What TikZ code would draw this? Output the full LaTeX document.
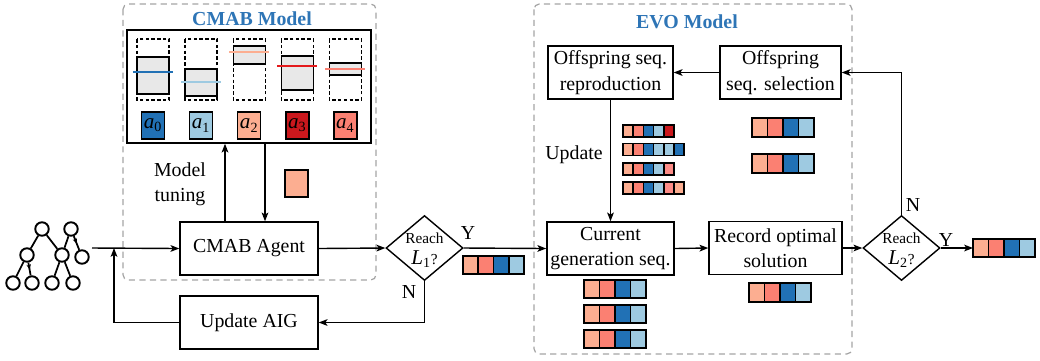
\documentclass[tikz,border=0pt]{standalone}
\usepackage{fontspec}
\setmainfont{Liberation Serif}
\usetikzlibrary{arrows.meta,positioning,calc,shapes.geometric,decorations.markings}
\definecolor{ink}{RGB}{0,0,0}
\definecolor{frame}{RGB}{165,165,165}
\definecolor{title}{RGB}{46,117,182}
\definecolor{barfill}{RGB}{232,232,232}
\definecolor{dblue}{RGB}{33,113,181}
\definecolor{lblue}{RGB}{158,202,225}
\definecolor{lsalmon}{RGB}{252,174,145}
\definecolor{salmon}{RGB}{251,128,114}
\definecolor{dred}{RGB}{203,24,29}
\definecolor{pinky}{RGB}{252,140,135}
\definecolor{redline}{RGB}{228,26,28}
\tikzset{
  every picture/.style={color=ink, line width=0.8pt, font=\fontsize{11.3}{14.5}\selectfont},
  box/.style={draw=ink, fill=white, inner sep=2pt, minimum height=1.06cm, align=center},
  cond/.style={draw=ink, diamond, minimum width=1.54cm, minimum height=1.3cm, inner sep=0pt},
  condtxt/.style={align=center, font=\fontsize{8.7}{11}\selectfont, inner sep=0pt},
  model/.style={draw=frame, dash pattern=on 3.5pt off 2.5pt, rounded corners=3pt, line width=0.7pt},
  ttl/.style={font=\fontsize{11.3}{13.5}\selectfont\bfseries, text=title},
  arm/.style={draw=ink, minimum width=0.46cm, minimum height=0.54cm, inner sep=0pt, font=\fontsize{12}{12}\selectfont},
  flow/.style={-{Stealth[length=5pt,width=3.8pt,inset=1.2pt]}, line width=0.8pt},
  gate/.style={circle, draw=ink, line width=1.1pt, minimum size=0.27cm, inner sep=0pt},
  wire/.style={line width=1pt},
  inv/.style={wire, postaction={decorate}, decoration={markings, mark=at position 0.55 with {\arrow{Stealth[length=3pt,width=2.6pt]}}}},
  lbl/.style={inner sep=1pt},
}
% one row of coloured cells: x, y (top left), cell width, cell height, colours
\newcommand{\seqbar}[5]{%
  \foreach \clr [count=\k from 0] in {#5}
    \filldraw[fill=\clr, draw=ink, line width=0.9pt] ({#1+\k*#3},#2) rectangle ++(#3,#4);
}

\begin{document}
\begin{tikzpicture}[x=0.02cm, y=-0.02cm]
  \useasboundingbox (0,0) rectangle (1040,360);
  % dashed model frames
  \draw[model] (123,4) rectangle (376,280);
  \draw[model] (534,4) rectangle (852,354);
  \node[ttl] (cmabttl) at (252,19) {CMAB Model};
  \node[ttl] (evottl) at (687,22) {EVO Model};

  % input AIG
  \node[gate] (g1) at (42,229) {};
  \node[gate] (g2) at (71,229) {};
  \node[gate] (g3) at (27,255) {};
  \node[gate] (g4) at (62,255) {};
  \node[gate] (g5) at (82,257) {};
  \node[gate] (g6) at (13,283) {};
  \node[gate] (g7) at (32,283) {};
  \node[gate] (g8) at (52,283) {};
  \node[gate] (g9) at (73,283) {};
  \draw[wire] (g1) -- (g3) (g1) -- (g4) (g2) -- (g4) (g3) -- (g6) (g4) -- (g8) (g4) -- (g9);
  \draw[inv] (g2) -- (g5);
  \draw[inv] (g3) -- (g7);
  \coordinate (gin) at (92,248);
  \coordinate (merge) at (114,248);

  % CMAB model: arms and their estimates
  \node[draw=ink, minimum width=4.88cm, minimum height=2.26cm, inner sep=0pt] (armbox) at (249,86.5) {};
  \foreach \top/\bot/\mu/\clr [count=\i from 0] in {57/94/72/dblue, 69/96/82/lblue, 46/64/52/lsalmon, 56/90/66/redline, 63/75/69/salmon} {
    \filldraw[fill=barfill] ({153+48.1*\i-16},\top) rectangle ({153+48.1*\i+16},\bot);
    \draw[dash pattern=on 2pt off 1.3pt] ({153+48.1*\i-16},39) rectangle ({153+48.1*\i+16},100);
    \draw[\clr, line width=1.1pt] ({153+48.1*\i-20},\mu) -- ({153+48.1*\i+20},\mu);
  }
  \foreach \clr [count=\i from 0] in {dblue,lblue,lsalmon,dred,salmon}
    \node[arm, fill=\clr] (a\i) at ({153+48.1*\i},125.5) {\textit{a}\textsubscript{\i}};
  \node[arm, fill=lsalmon] (pick) at (296.5,183.5) {};
  \node[align=center] (tune) at (180,184) {Model\\tuning};

  \node[box, minimum width=2.76cm] (agent) at (249,248.5) {CMAB Agent};
  \node[box, minimum width=2.76cm] (aig) at (249,322.5) {Update AIG};
  \node[cond] (reach1) at (424.5,248) {};
  \node[condtxt] (reach1txt) at (424.5,250) {Reach\\[1pt]{\fontsize{12}{12}\selectfont\textit{L}\textsubscript{1}}?};
  \node[lbl] (n1) at (409,292) {N};
  \node[lbl] (y1) at (468,233) {Y};

  \draw[flow] (gin) -- (agent.west);
  \draw[flow] (aig.west) -| (merge);
  \draw[flow] (agent.north -| 225,0) -- (armbox.south -| 225,0);
  \draw[flow] (armbox.south -| 265,0) -- (agent.north -| 265,0);
  \draw[flow] (agent.east) -- (reach1.west);
  \draw[flow] (reach1.south) |- (aig.east);
  \seqbar{463}{256}{15.25}{18}{lsalmon,salmon,dblue,lblue}

  % EVO model
  \node[box, minimum width=2.5cm] (repro) at (610.5,72.5) {Offspring seq.\\reproduction};
  \node[box, minimum width=2.42cm] (sel) at (780.5,72.5) {Offspring\\seq. selection};
  \node[box, minimum width=2.54cm] (cur) at (610.5,248.5) {Current\\generation seq.};
  \node[box, minimum width=2.66cm] (rec) at (775.5,248) {Record optimal\\solution};
  \node (upd) at (574,155) {Update};
  \node[cond] (reach2) at (901.5,248) {};
  \node[condtxt] (reach2txt) at (901.5,250) {Reach\\[1pt]{\fontsize{12}{12}\selectfont\textit{L}\textsubscript{2}}?};
  \node[lbl] (n2) at (913,205) {N};
  \node[lbl] (y2) at (946,240) {Y};
  \coordinate (outbar) at (973,248);

  \draw[flow] (reach1.east) -- (cur.west);
  \draw[flow] (sel.west) -- (repro.east);
  \draw[flow] (repro.south) -- (cur.north);
  \draw[flow] (cur.east) -- (rec.west);
  \draw[flow] (rec.east) -- (reach2.west);
  \draw[flow] (reach2.north) |- (sel.east);
  \draw[flow] (reach2.east) -- (outbar);

  \seqbar{623}{125}{10.2}{12}{lsalmon,salmon,dblue,lblue,dred}
  \seqbar{623}{143.5}{10.2}{12}{lsalmon,salmon,dblue,lblue,lblue,dblue}
  \seqbar{623}{163}{10.2}{12}{lsalmon,salmon,dblue,lblue,pinky}
  \seqbar{623}{182}{10.2}{12}{lsalmon,salmon,dblue,lblue,pinky,lsalmon}
  \seqbar{752}{118}{15.5}{19}{lsalmon,salmon,dblue,lblue}
  \seqbar{752}{154}{15.5}{19}{lsalmon,salmon,dblue,lblue}
  \seqbar{584}{280}{15.5}{18}{lsalmon,salmon,dblue,lblue}
  \seqbar{584}{305}{15.5}{18}{lsalmon,salmon,dblue,lblue}
  \seqbar{584}{330}{15.5}{18}{lsalmon,salmon,dblue,lblue}
  \seqbar{749}{283}{15.5}{19}{lsalmon,salmon,dblue,lblue}
  \seqbar{973}{239}{15.5}{18}{lsalmon,salmon,dblue,lblue}
\end{tikzpicture}
\end{document}
